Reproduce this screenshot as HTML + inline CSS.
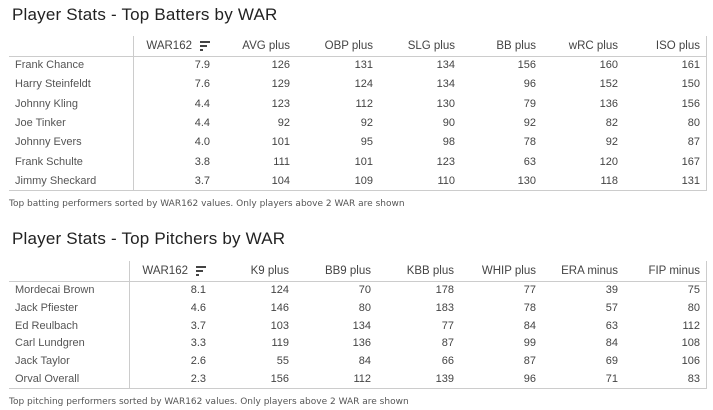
<!DOCTYPE html>
<html><head><meta charset="utf-8"><style>
body{margin:0;width:713px;height:410px;background:#fff;position:relative;overflow:hidden;font-family:"Segoe UI","Liberation Sans",sans-serif;}
.a{position:absolute;white-space:nowrap;font-size:11px;color:#444;line-height:14px}
.t{position:absolute;font-family:"Liberation Sans",sans-serif;font-size:17px;color:#222;white-space:nowrap;letter-spacing:0.2px}
.c{position:absolute;font-family:"DejaVu Sans",sans-serif;font-size:9px;color:#555;white-space:nowrap}
.h{position:absolute;background:#ccc;height:1px}
.v{position:absolute;background:#ccc;width:1px}
.r{text-align:right}
</style></head><body>
<div class="t" style="left:12px;top:5px">Player Stats - Top Batters by WAR</div>
<div class="t" style="left:12px;top:229px">Player Stats - Top Pitchers by WAR</div>
<div class="c" style="left:9px;top:199px">Top batting performers sorted by WAR162 values. Only players above 2 WAR are shown</div>
<div class="c" style="left:9px;top:397px">Top pitching performers sorted by WAR162 values. Only players above 2 WAR are shown</div>
<div id="root"></div>
<script>
function tbl(o){
 var h='';
 h+='<div class="h" style="left:9px;width:698px;top:'+o.hl+'px"></div>';
 h+='<div class="h" style="left:9px;width:698px;top:'+o.bl+'px"></div>';
 h+='<div class="v" style="left:'+o.sep+'px;top:'+o.top+'px;height:'+(o.bl-o.top)+'px"></div>';
 h+='<div class="v" style="left:706px;top:'+o.top+'px;height:'+(o.bl-o.top)+'px"></div>';
 o.heads.forEach(function(t,i){
  var r=o.rights[i]; if(i==0) r-=18;
  h+='<div class="a r" style="right:'+(713-r)+'px;top:'+(o.hy-7)+'px;font-size:11.5px">'+t+'</div>';
 });
 var ix=o.rights[0]-10, iy=o.hy-5;
 h+='<div style="position:absolute;left:'+ix+'px;top:'+iy+'px;width:10px;height:2px;background:#444"></div>';
 h+='<div style="position:absolute;left:'+ix+'px;top:'+(iy+4)+'px;width:7px;height:2px;background:#444"></div>';
 h+='<div style="position:absolute;left:'+ix+'px;top:'+(iy+8)+'px;width:3px;height:2px;background:#444"></div>';
 o.rows.forEach(function(row,j){
  var y=o.y0+j*o.dy-7;
  h+='<div class="a" style="left:15px;top:'+y+'px;color:#555">'+row[0]+'</div>';
  for(var k=1;k<row.length;k++)
   h+='<div class="a r" style="right:'+(713-o.rights[k-1])+'px;top:'+y+'px">'+row[k]+'</div>';
 });
 return h;
}
var s='';
s+=tbl({top:36,hl:56,bl:190,sep:133,hy:46,y0:65,dy:19.33,
 heads:['WAR162','AVG plus','OBP plus','SLG plus','BB plus','wRC plus','ISO plus'],
 rights:[210,290,373,455,536,618,700],
 rows:[['Frank Chance','7.9',126,131,134,156,160,161],['Harry Steinfeldt','7.6',129,124,134,96,152,150],['Johnny Kling','4.4',123,112,130,79,136,156],['Joe Tinker','4.4',92,92,90,92,82,80],['Johnny Evers','4.0',101,95,98,78,92,87],['Frank Schulte','3.8',111,101,123,63,120,167],['Jimmy Sheckard','3.7',104,109,110,130,118,131]]});
s+=tbl({top:261,hl:281,bl:388,sep:129,hy:271,y0:290,dy:17.8,
 heads:['WAR162','K9 plus','BB9 plus','KBB plus','WHIP plus','ERA minus','FIP minus'],
 rights:[206,289,371,454,536,618,700],
 rows:[['Mordecai Brown','8.1',124,70,178,77,39,75],['Jack Pfiester','4.6',146,80,183,78,57,80],['Ed Reulbach','3.7',103,134,77,84,63,112],['Carl Lundgren','3.3',119,136,87,99,84,108],['Jack Taylor','2.6',55,84,66,87,69,106],['Orval Overall','2.3',156,112,139,96,71,83]]});
document.getElementById('root').innerHTML=s;
</script>
</body></html>
